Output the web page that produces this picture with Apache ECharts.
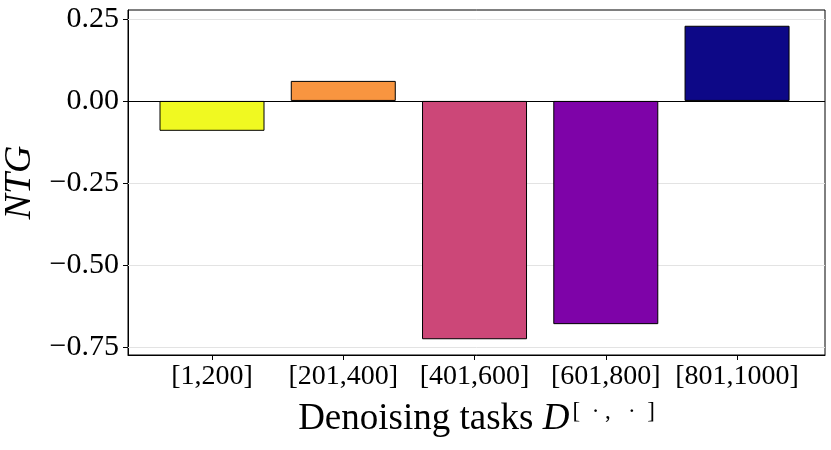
<!DOCTYPE html>
<html><head><meta charset="utf-8">
<script src="https://cdn.jsdelivr.net/npm/echarts@6/dist/echarts.min.js"></script>
<style>html,body{margin:0;padding:0;background:#fff}#c{width:831px;height:450px}</style>
</head><body><div id="c"></div>
<script>
const categories = ['[1,200]', '[201,400]', '[401,600]', '[601,800]', '[801,1000]'];
const values = [-0.091, 0.061, -0.726, -0.68, 0.229];
const colors = ['#f0f921', '#f89540', '#cc4778', '#7e03a8', '#0d0887'];
const yTicks = [-0.75, -0.5, -0.25, 0, 0.25];

const F = 'Liberation Serif, Times New Roman, serif';
const fmt = v => (v < 0 ? '\u2212' : '') + Math.abs(v).toFixed(2);
const chart = echarts.init(document.getElementById('c'));
chart.setOption({
  animation: false,
  grid: {left: 128, right: 6, top: 10, bottom: 95, show: true, borderColor: '#000', borderWidth: 1, containLabel: false, outerBoundsMode: 'none'},
  xAxis: {
    type: 'value', min: -0.64, max: 4.67,
    axisLine: {show: true, onZero: false, lineStyle: {color: '#000'}},
    axisTick: {show: true, customValues: categories.map((c, i) => i), length: 5, lineStyle: {color: '#000'}},
    axisLabel: {customValues: categories.map((c, i) => i), formatter: v => categories[Math.round(v)] || '', color: '#000', fontFamily: F, fontSize: 28, margin: 8},
    splitLine: {show: false},
    name: '{n|Denoising tasks }{d|D}{s|[  \u00b7 ,   \u00b7  ]}',
    nameLocation: 'middle', nameGap: 45,
    nameTextStyle: {rich: {
      n: {fontFamily: F, fontSize: 37, color: '#000'},
      d: {fontFamily: F, fontSize: 37, fontStyle: 'italic', color: '#000'},
      s: {fontFamily: F, fontSize: 23, color: '#000', verticalAlign: 'top', padding: [0, 0, 16, 3]}
    }}
  },
  yAxis: {
    type: 'value', min: -0.774, max: 0.277,
    axisLine: {show: true, onZero: false, lineStyle: {color: '#000'}},
    axisTick: {show: true, customValues: yTicks, length: 5, lineStyle: {color: '#000'}},
    axisLabel: {customValues: yTicks, formatter: fmt, color: '#000', fontFamily: F, fontSize: 30, margin: 9},
    splitLine: {show: false},
    name: 'NTG', nameLocation: 'middle', nameGap: 86, nameRotate: 90,
    nameTextStyle: {fontFamily: F, fontSize: 38, fontStyle: 'italic', color: '#000'}
  },
  series: [{
    type: 'bar', barWidth: 105,
    data: values.map((v, i) => ({value: [i, v], itemStyle: {color: colors[i]}})),
    itemStyle: {borderColor: '#000', borderWidth: 1},
    markLine: {
      silent: true, symbol: 'none', label: {show: false}, z: 1,
      data: yTicks.filter(t => t !== 0).map(t => ({yAxis: t, lineStyle: {color: '#e3e3e3', width: 1, type: 'solid'}}))
    },
    z: 3
  }, {
    type: 'line', data: [],
    markLine: {
      silent: true, symbol: 'none', label: {show: false}, z: 5,
      data: [{yAxis: 0, lineStyle: {color: '#000', width: 1, type: 'solid'}}]
    }
  }]
});
</script></body></html>
